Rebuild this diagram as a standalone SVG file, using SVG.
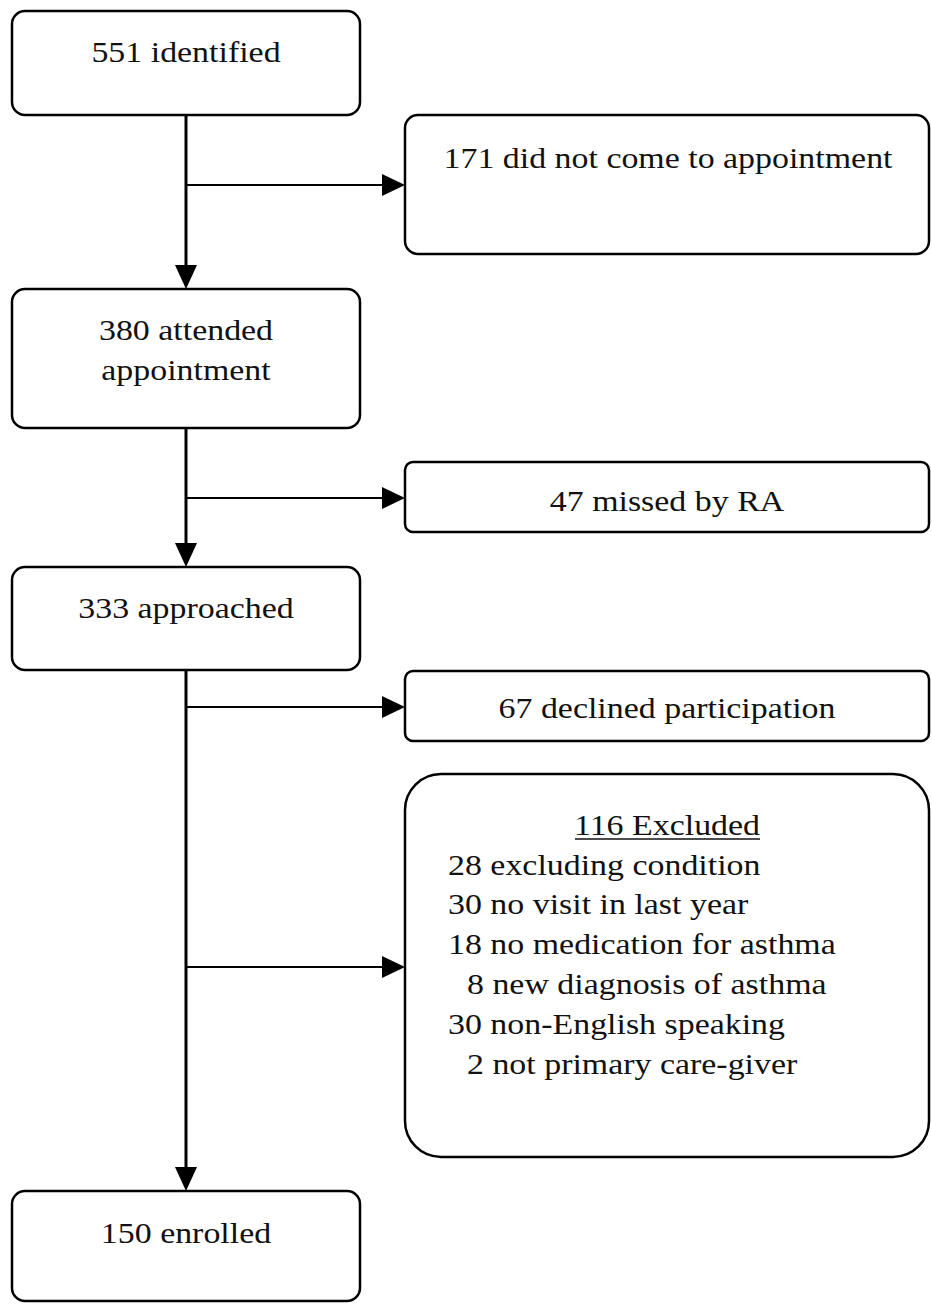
<svg xmlns="http://www.w3.org/2000/svg" width="932" height="1304" viewBox="0 0 932 1304">
<style>
.box{fill:#fff;stroke:#000;stroke-width:2.5}
.t{font-family:"Liberation Serif","Times New Roman",serif;font-size:30px;fill:#111}
.c{text-anchor:middle}
.main{stroke:#000;stroke-width:3;fill:none}
.br{stroke:#000;stroke-width:2;fill:none}
</style>
<rect width="932" height="1304" fill="#fff"/>
<g id="connectors">
<line class="main" x1="186" y1="115" x2="186" y2="266"/>
<path d="M175,265 L197,265 L186,289 Z" fill="#000"/>
<line class="br" x1="186" y1="185" x2="384" y2="185"/>
<path d="M382,174 L382,196 L405,185 Z" fill="#000"/>
<line class="main" x1="186" y1="428" x2="186" y2="544"/>
<path d="M175,543 L197,543 L186,567 Z" fill="#000"/>
<line class="br" x1="186" y1="498" x2="384" y2="498"/>
<path d="M382,487 L382,509 L405,498 Z" fill="#000"/>
<line class="main" x1="186" y1="670" x2="186" y2="1168"/>
<path d="M175,1167 L197,1167 L186,1191 Z" fill="#000"/>
<line class="br" x1="186" y1="707" x2="384" y2="707"/>
<path d="M382,696 L382,718 L405,707 Z" fill="#000"/>
<line class="br" x1="186" y1="967" x2="384" y2="967"/>
<path d="M382,956 L382,978 L405,967 Z" fill="#000"/>
</g>
<g id="n551">
<rect class="box" x="12" y="11" width="348" height="104" rx="13"/>
<text class="t c" transform="translate(186,62) scale(1.13,1)">551 identified</text>
</g>
<g id="n171">
<rect class="box" x="405" y="115" width="524" height="139" rx="13"/>
<text class="t c" transform="translate(668,168) scale(1.13,1)">171 did not come to appointment</text>
</g>
<g id="n380">
<rect class="box" x="12" y="289" width="348" height="139" rx="13"/>
<text class="t c" transform="translate(186,340) scale(1.13,1)">380 attended</text>
<text class="t c" transform="translate(186,380) scale(1.13,1)">appointment</text>
</g>
<g id="n47">
<rect class="box" x="405" y="462" width="524" height="70" rx="8"/>
<text class="t c" transform="translate(667,511) scale(1.13,1)">47 missed by RA</text>
</g>
<g id="n333">
<rect class="box" x="12" y="567" width="348" height="103" rx="13"/>
<text class="t c" transform="translate(186,618) scale(1.13,1)">333 approached</text>
</g>
<g id="n67">
<rect class="box" x="405" y="671" width="524" height="70" rx="8"/>
<text class="t c" transform="translate(667,718) scale(1.13,1)">67 declined participation</text>
</g>
<g id="n116">
<rect class="box" x="405" y="774" width="524" height="383" rx="36"/>
<text class="t c" transform="translate(667,835) scale(1.13,1)">116 Excluded</text>
<line x1="575" y1="839" x2="760" y2="839" stroke="#111" stroke-width="1.5"/>
<text class="t" transform="translate(448,875) scale(1.13,1)">28 excluding condition</text>
<text class="t" transform="translate(448,914) scale(1.13,1)">30 no visit in last year</text>
<text class="t" transform="translate(448,954) scale(1.13,1)">18 no medication for asthma</text>
<text class="t" transform="translate(467,994) scale(1.13,1)">8 new diagnosis of asthma</text>
<text class="t" transform="translate(448,1034) scale(1.13,1)">30 non-English speaking</text>
<text class="t" transform="translate(467,1074) scale(1.13,1)">2 not primary care-giver</text>
</g>
<g id="n150">
<rect class="box" x="12" y="1191" width="348" height="110" rx="13"/>
<text class="t c" transform="translate(186,1243) scale(1.13,1)">150 enrolled</text>
</g>
</svg>
